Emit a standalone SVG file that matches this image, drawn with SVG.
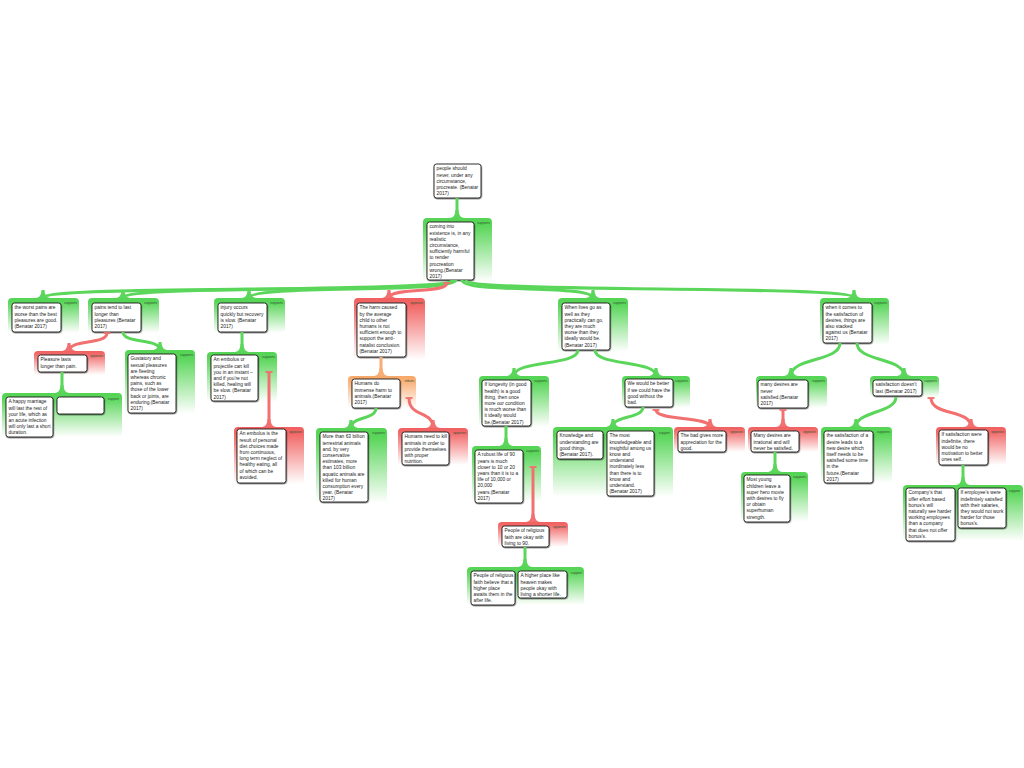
<svg xmlns="http://www.w3.org/2000/svg" width="1024" height="768" viewBox="0 0 1024 768">
<style>
.t{font-family:"Liberation Sans",Arial,sans-serif;font-size:4.85px;fill:#222}
.lbl{font-family:"Liberation Sans",Arial,sans-serif;font-size:3.4px;fill:#335533;text-anchor:end}
.box{fill:#fff;stroke:#1a1a1a;stroke-width:0.9;filter:url(#sh)}
.cg{fill:url(#gG)}
.cr{fill:url(#gR)}
.co{fill:url(#gO)}
.lg{fill:none;stroke:#5ad65a;stroke-width:3;marker-end:url(#fg)}
.lr{fill:none;stroke:#f27070;stroke-width:3;marker-end:url(#fr);marker-start:url(#tr)}
.lo{fill:none;stroke:#f7ad74;stroke-width:3;marker-end:url(#fo)}
</style>
<defs>
<linearGradient id="gG" x1="0" y1="0" x2="0" y2="1"><stop offset="0" stop-color="#55d455"/><stop offset="0.12" stop-color="#5ad65a"/><stop offset="1" stop-color="#ffffff"/></linearGradient>
<linearGradient id="gR" x1="0" y1="0" x2="0" y2="1"><stop offset="0" stop-color="#f06060"/><stop offset="0.12" stop-color="#f26868"/><stop offset="1" stop-color="#ffffff"/></linearGradient>
<linearGradient id="gO" x1="0" y1="0" x2="0" y2="1"><stop offset="0" stop-color="#f8a868"/><stop offset="0.12" stop-color="#f8ad72"/><stop offset="1" stop-color="#ffffff"/></linearGradient>
<filter id="sh" x="-10%" y="-10%" width="130%" height="130%"><feDropShadow dx="0.5" dy="0.9" stdDeviation="0.4" flood-color="#000" flood-opacity="0.5"/></filter>
<marker id="fg" viewBox="-8 -7 9 14" refX="0" refY="0" markerWidth="9" markerHeight="14" orient="auto" markerUnits="userSpaceOnUse"><path d="M-8,-1.5 Q-1,-1.5 0,-7 L0,7 Q-1,1.5 -8,1.5 Z" fill="#5ad65a"/></marker>
<marker id="fr" viewBox="-8 -7 9 14" refX="0" refY="0" markerWidth="9" markerHeight="14" orient="auto" markerUnits="userSpaceOnUse"><path d="M-8,-1.5 Q-1,-1.5 0,-7 L0,7 Q-1,1.5 -8,1.5 Z" fill="#f27070"/></marker>
<marker id="fo" viewBox="-8 -7 9 14" refX="0" refY="0" markerWidth="9" markerHeight="14" orient="auto" markerUnits="userSpaceOnUse"><path d="M-8,-1.5 Q-1,-1.5 0,-7 L0,7 Q-1,1.5 -8,1.5 Z" fill="#f7ad74"/></marker>
<marker id="tr" viewBox="-2 -5 4 10" refX="0" refY="0" markerWidth="4" markerHeight="10" orient="auto" markerUnits="userSpaceOnUse"><path d="M0,-3.5 L0,3.5" stroke="#f27070" stroke-width="1.8"/></marker>
</defs>
<rect width="1024" height="768" fill="#fff"/>

<g id="n-root">
<rect class="box" x="434" y="164" width="47" height="34" rx="2.5"/>
<text class="t"><tspan x="436.5" y="170.3">people should</tspan><tspan x="436.5" y="176.5">never, under any</tspan><tspan x="436.5" y="182.7">circumstance,</tspan><tspan x="436.5" y="188.9">procreate. (Benatar</tspan><tspan x="436.5" y="195.1">2017)</tspan></text>
</g>

<g id="n-L1">
<rect class="cg" x="423" y="218" width="69" height="64" rx="4"/>
<text class="lbl" x="490" y="224">supports</text>
<rect class="box" x="427" y="222" width="47" height="58" rx="2.5"/>
<text class="t"><tspan x="429.5" y="228.3">coming into</tspan><tspan x="429.5" y="234.5">existence is, in any</tspan><tspan x="429.5" y="240.7">realistic</tspan><tspan x="429.5" y="246.9">circumstance,</tspan><tspan x="429.5" y="253.1">sufficiently harmful</tspan><tspan x="429.5" y="259.3">to render</tspan><tspan x="429.5" y="265.5">procreation</tspan><tspan x="429.5" y="271.7">wrong.(Benatar</tspan><tspan x="429.5" y="277.9">2017)</tspan></text>
</g>

<g id="n-A">
<rect class="cg" x="8" y="298" width="71" height="35" rx="4"/>
<text class="lbl" x="77" y="304">supports</text>
<rect class="box" x="12" y="303" width="49" height="29" rx="2.5"/>
<text class="t"><tspan x="14.5" y="309.3">the worst pains are</tspan><tspan x="14.5" y="315.5">worse than the best</tspan><tspan x="14.5" y="321.7">pleasures are good.</tspan><tspan x="14.5" y="327.9">(Benatar 2017)</tspan></text>
</g>

<g id="n-B">
<rect class="cg" x="88" y="298" width="71" height="35" rx="4"/>
<text class="lbl" x="157" y="304">supports</text>
<rect class="box" x="92" y="303" width="49" height="29" rx="2.5"/>
<text class="t"><tspan x="94.5" y="309.3">pains tend to last</tspan><tspan x="94.5" y="315.5">longer than</tspan><tspan x="94.5" y="321.7">pleasures (Benatar</tspan><tspan x="94.5" y="327.9">2017)</tspan></text>
</g>

<g id="n-C">
<rect class="cg" x="214" y="298" width="71" height="35" rx="4"/>
<text class="lbl" x="283" y="304">supports</text>
<rect class="box" x="218" y="303" width="49" height="29" rx="2.5"/>
<text class="t"><tspan x="220.5" y="309.3">injury occurs</tspan><tspan x="220.5" y="315.5">quickly but recovery</tspan><tspan x="220.5" y="321.7">is slow. (Benatar</tspan><tspan x="220.5" y="327.9">2017)</tspan></text>
</g>

<g id="n-D">
<rect class="cr" x="354" y="298" width="71" height="62" rx="4"/>
<text class="lbl" x="423" y="304">opposes</text>
<rect class="box" x="357" y="303" width="49" height="54" rx="2.5"/>
<text class="t"><tspan x="359.5" y="309.3">The harm caused</tspan><tspan x="359.5" y="315.5">by the average</tspan><tspan x="359.5" y="321.7">child to other</tspan><tspan x="359.5" y="327.9">humans is not</tspan><tspan x="359.5" y="334.1">sufficient enough to</tspan><tspan x="359.5" y="340.3">support the anti-</tspan><tspan x="359.5" y="346.5">natalist conclusion.</tspan><tspan x="359.5" y="352.7">(Benatar 2017)</tspan></text>
</g>

<g id="n-E">
<rect class="cg" x="558" y="298" width="70" height="54" rx="4"/>
<text class="lbl" x="626" y="304">supports</text>
<rect class="box" x="562" y="303" width="48" height="47" rx="2.5"/>
<text class="t"><tspan x="564.5" y="309.3">When lives go as</tspan><tspan x="564.5" y="315.5">well as they</tspan><tspan x="564.5" y="321.7">practically can go,</tspan><tspan x="564.5" y="327.9">they are much</tspan><tspan x="564.5" y="334.1">worse than they</tspan><tspan x="564.5" y="340.3">ideally would be.</tspan><tspan x="564.5" y="346.5">(Benatar 2017)</tspan></text>
</g>

<g id="n-F">
<rect class="cg" x="820" y="298" width="69" height="47" rx="4"/>
<text class="lbl" x="887" y="304">supports</text>
<rect class="box" x="823" y="303" width="49" height="40" rx="2.5"/>
<text class="t"><tspan x="825.5" y="309.3">when it comes to</tspan><tspan x="825.5" y="315.5">the satisfaction of</tspan><tspan x="825.5" y="321.7">desires, things are</tspan><tspan x="825.5" y="327.9">also stacked</tspan><tspan x="825.5" y="334.1">against us (Benatar</tspan><tspan x="825.5" y="340.3">2017)</tspan></text>
</g>

<g id="n-B1">
<rect class="cr" x="34" y="351" width="71" height="24" rx="4"/>
<text class="lbl" x="103" y="357">opposes</text>
<rect class="box" x="38" y="355" width="49" height="17" rx="2.5"/>
<text class="t"><tspan x="40.5" y="361.3">Pleasure lasts</tspan><tspan x="40.5" y="367.5">longer than pain.</tspan></text>
</g>

<g id="n-B2">
<rect class="cg" x="125" y="350" width="70" height="64" rx="4"/>
<text class="lbl" x="193" y="356">supports</text>
<rect class="box" x="128" y="354" width="48" height="59" rx="2.5"/>
<text class="t"><tspan x="130.5" y="360.3">Gustatory and</tspan><tspan x="130.5" y="366.5">sexual pleasures</tspan><tspan x="130.5" y="372.7">are fleeting</tspan><tspan x="130.5" y="378.9">whereas chronic</tspan><tspan x="130.5" y="385.1">pains, such as</tspan><tspan x="130.5" y="391.3">those of the lower</tspan><tspan x="130.5" y="397.5">back or joints, are</tspan><tspan x="130.5" y="403.7">enduring.(Benatar</tspan><tspan x="130.5" y="409.9">2017)</tspan></text>
</g>

<g id="n-B11">
<rect class="cg" x="2" y="393" width="120" height="44" rx="4"/>
<text class="lbl" x="119" y="400">support</text>
<rect class="box" x="6" y="397" width="47" height="40" rx="2.5"/>
<text class="t"><tspan x="8.5" y="403.3">A happy marriage</tspan><tspan x="8.5" y="409.5">will last the rest of</tspan><tspan x="8.5" y="415.7">your life, which as</tspan><tspan x="8.5" y="421.9">an acute infection</tspan><tspan x="8.5" y="428.1">will only last a short</tspan><tspan x="8.5" y="434.3">duration.</tspan></text>
<rect class="box" x="57" y="397" width="47" height="17" rx="2.5"/>
</g>

<g id="n-C1">
<rect class="cg" x="207" y="352" width="70" height="50" rx="4"/>
<text class="lbl" x="275" y="358">supports</text>
<rect class="box" x="211" y="355" width="47" height="46" rx="2.5"/>
<text class="t"><tspan x="213.5" y="361.3">An embolus or</tspan><tspan x="213.5" y="367.5">projectile can kill</tspan><tspan x="213.5" y="373.7">you in an instant –</tspan><tspan x="213.5" y="379.9">and if you're not</tspan><tspan x="213.5" y="386.1">killed, healing will</tspan><tspan x="213.5" y="392.3">be slow. (Benatar</tspan><tspan x="213.5" y="398.5">2017)</tspan></text>
</g>

<g id="n-C11">
<rect class="cr" x="234" y="427" width="70" height="57" rx="4"/>
<text class="lbl" x="302" y="433">opposes</text>
<rect class="box" x="237" y="429" width="49" height="54" rx="2.5"/>
<text class="t"><tspan x="239.5" y="435.3">An embolus is the</tspan><tspan x="239.5" y="441.5">result of personal</tspan><tspan x="239.5" y="447.7">diet choices made</tspan><tspan x="239.5" y="453.9">from continuous,</tspan><tspan x="239.5" y="460.1">long term neglect of</tspan><tspan x="239.5" y="466.3">healthy eating, all</tspan><tspan x="239.5" y="472.5">of which can be</tspan><tspan x="239.5" y="478.7">avoided.</tspan></text>
</g>

<g id="n-D1">
<rect class="co" x="348" y="376" width="68" height="32" rx="4"/>
<text class="lbl" x="414" y="382">rebuts</text>
<rect class="box" x="352" y="379" width="48" height="29" rx="2.5"/>
<text class="t"><tspan x="354.5" y="385.3">Humans do</tspan><tspan x="354.5" y="391.5">immense harm to</tspan><tspan x="354.5" y="397.7">animals.(Benatar</tspan><tspan x="354.5" y="403.9">2017)</tspan></text>
</g>

<g id="n-D11">
<rect class="cg" x="316" y="428" width="71" height="75" rx="4"/>
<text class="lbl" x="385" y="434">supports</text>
<rect class="box" x="320" y="432" width="48" height="70" rx="2.5"/>
<text class="t"><tspan x="322.5" y="438.3">More than 63 billion</tspan><tspan x="322.5" y="444.5">terrestrial animals</tspan><tspan x="322.5" y="450.7">and, by very</tspan><tspan x="322.5" y="456.9">conservative</tspan><tspan x="322.5" y="463.1">estimates, more</tspan><tspan x="322.5" y="469.3">than 103 billion</tspan><tspan x="322.5" y="475.5">aquatic animals are</tspan><tspan x="322.5" y="481.7">killed for human</tspan><tspan x="322.5" y="487.9">consumption every</tspan><tspan x="322.5" y="494.1">year. (Benatar</tspan><tspan x="322.5" y="500.3">2017)</tspan></text>
</g>

<g id="n-D12">
<rect class="cr" x="398" y="428" width="70" height="37" rx="4"/>
<text class="lbl" x="466" y="434">opposes</text>
<rect class="box" x="402" y="432" width="47" height="33" rx="2.5"/>
<text class="t"><tspan x="404.5" y="438.3">Humans need to kill</tspan><tspan x="404.5" y="444.5">animals in order to</tspan><tspan x="404.5" y="450.7">provide themselves</tspan><tspan x="404.5" y="456.9">with proper</tspan><tspan x="404.5" y="463.1">nutrition.</tspan></text>
</g>

<g id="n-E1">
<rect class="cg" x="479" y="376" width="70" height="51" rx="4"/>
<text class="lbl" x="547" y="382">supports</text>
<rect class="box" x="482" y="380" width="49" height="46" rx="2.5"/>
<text class="t"><tspan x="484.5" y="386.3">If longevity (in good</tspan><tspan x="484.5" y="392.5">health) is a good</tspan><tspan x="484.5" y="398.7">thing, then once</tspan><tspan x="484.5" y="404.9">more our condition</tspan><tspan x="484.5" y="411.1">is much worse than</tspan><tspan x="484.5" y="417.3">it ideally would</tspan><tspan x="484.5" y="423.5">be.(Benatar 2017)</tspan></text>
</g>

<g id="n-E2">
<rect class="cg" x="622" y="376" width="68" height="32" rx="4"/>
<text class="lbl" x="688" y="382">supports</text>
<rect class="box" x="625" y="379" width="48" height="28" rx="2.5"/>
<text class="t"><tspan x="627.5" y="385.3">We would be better</tspan><tspan x="627.5" y="391.5">if we could have the</tspan><tspan x="627.5" y="397.7">good without the</tspan><tspan x="627.5" y="403.9">bad.</tspan></text>
</g>

<g id="n-E11">
<rect class="cg" x="472" y="446" width="69" height="56" rx="4"/>
<text class="lbl" x="539" y="452">supports</text>
<rect class="box" x="475" y="450" width="48" height="53" rx="2.5"/>
<text class="t"><tspan x="477.5" y="456.3">A robust life of 90</tspan><tspan x="477.5" y="462.5">years is much</tspan><tspan x="477.5" y="468.7">closer to 10 or 20</tspan><tspan x="477.5" y="474.9">years than it is to a</tspan><tspan x="477.5" y="481.1">life of 10,000 or</tspan><tspan x="477.5" y="487.3">20,000</tspan><tspan x="477.5" y="493.5">years.(Benatar</tspan><tspan x="477.5" y="499.7">2017)</tspan></text>
</g>

<g id="n-E111">
<rect class="cr" x="498" y="522" width="70" height="25" rx="4"/>
<text class="lbl" x="566" y="528">opposes</text>
<rect class="box" x="502" y="526" width="47" height="21" rx="2.5"/>
<text class="t"><tspan x="504.5" y="532.3">People of religious</tspan><tspan x="504.5" y="538.5">faith are okay with</tspan><tspan x="504.5" y="544.7">living to 90.</tspan></text>
</g>

<g id="n-E1111">
<rect class="cg" x="467" y="567" width="117" height="38" rx="4"/>
<text class="lbl" x="582" y="574">support</text>
<rect class="box" x="471" y="571" width="44" height="34" rx="2.5"/>
<text class="t"><tspan x="473.5" y="577.3">People of religious</tspan><tspan x="473.5" y="583.5">faith believe that a</tspan><tspan x="473.5" y="589.7">higher place</tspan><tspan x="473.5" y="595.9">awaits them in the</tspan><tspan x="473.5" y="602.1">after life.</tspan></text>
<rect class="box" x="518" y="571" width="49" height="27" rx="2.5"/>
<text class="t"><tspan x="520.5" y="577.3">A higher place like</tspan><tspan x="520.5" y="583.5">heaven makes</tspan><tspan x="520.5" y="589.7">people okay with</tspan><tspan x="520.5" y="595.9">living a shorter life.</tspan></text>
</g>

<g id="n-E21">
<rect class="cg" x="553" y="427" width="120" height="70" rx="4"/>
<text class="lbl" x="670" y="434">support</text>
<rect class="box" x="557" y="431" width="46" height="28" rx="2.5"/>
<text class="t"><tspan x="559.5" y="437.3">Knowledge and</tspan><tspan x="559.5" y="443.5">understanding are</tspan><tspan x="559.5" y="449.7">good things.</tspan><tspan x="559.5" y="455.9">(Benatar 2017).</tspan></text>
<rect class="box" x="607" y="431" width="47" height="65" rx="2.5"/>
<text class="t"><tspan x="609.5" y="437.3">The most</tspan><tspan x="609.5" y="443.5">knowledgeable and</tspan><tspan x="609.5" y="449.7">insightful among us</tspan><tspan x="609.5" y="455.9">know and</tspan><tspan x="609.5" y="462.1">understand</tspan><tspan x="609.5" y="468.3">inordinately less</tspan><tspan x="609.5" y="474.5">than there is to</tspan><tspan x="609.5" y="480.7">know and</tspan><tspan x="609.5" y="486.9">understand.</tspan><tspan x="609.5" y="493.1">(Benatar 2017)</tspan></text>
</g>

<g id="n-E22">
<rect class="cr" x="674" y="427" width="71" height="25" rx="4"/>
<text class="lbl" x="743" y="433">opposes</text>
<rect class="box" x="678" y="431" width="48" height="21" rx="2.5"/>
<text class="t"><tspan x="680.5" y="437.3">The bad gives more</tspan><tspan x="680.5" y="443.5">appreciation for the</tspan><tspan x="680.5" y="449.7">good.</tspan></text>
</g>

<g id="n-F1">
<rect class="cg" x="756" y="376" width="71" height="32" rx="4"/>
<text class="lbl" x="825" y="382">supports</text>
<rect class="box" x="758" y="380" width="50" height="28" rx="2.5"/>
<text class="t"><tspan x="760.5" y="386.3">many desires are</tspan><tspan x="760.5" y="392.5">never</tspan><tspan x="760.5" y="398.7">satisfied.(Benatar</tspan><tspan x="760.5" y="404.9">2017)</tspan></text>
</g>

<g id="n-F2">
<rect class="cg" x="870" y="376" width="69" height="21" rx="4"/>
<text class="lbl" x="937" y="382">supports</text>
<rect class="box" x="873" y="380" width="49" height="16" rx="2.5"/>
<text class="t"><tspan x="875.5" y="386.3">satisfaction doesn't</tspan><tspan x="875.5" y="392.5">last (Benatar 2017)</tspan></text>
</g>

<g id="n-F11">
<rect class="cr" x="748" y="427" width="70" height="25" rx="4"/>
<text class="lbl" x="816" y="433">opposes</text>
<rect class="box" x="751" y="431" width="48" height="21" rx="2.5"/>
<text class="t"><tspan x="753.5" y="437.3">Many desires are</tspan><tspan x="753.5" y="443.5">irrational and will</tspan><tspan x="753.5" y="449.7">never be satisfied.</tspan></text>
</g>

<g id="n-F111">
<rect class="cg" x="741" y="472" width="67" height="50" rx="4"/>
<text class="lbl" x="806" y="478">supports</text>
<rect class="box" x="744" y="475" width="46" height="47" rx="2.5"/>
<text class="t"><tspan x="746.5" y="481.3">Most young</tspan><tspan x="746.5" y="487.5">children leave a</tspan><tspan x="746.5" y="493.7">super hero movie</tspan><tspan x="746.5" y="499.9">with desires to fly</tspan><tspan x="746.5" y="506.1">or obtain</tspan><tspan x="746.5" y="512.3">superhuman</tspan><tspan x="746.5" y="518.5">strength.</tspan></text>
</g>

<g id="n-F21">
<rect class="cg" x="821" y="427" width="71" height="56" rx="4"/>
<text class="lbl" x="890" y="433">supports</text>
<rect class="box" x="824" y="431" width="49" height="52" rx="2.5"/>
<text class="t"><tspan x="826.5" y="437.3">the satisfaction of a</tspan><tspan x="826.5" y="443.5">desire leads to a</tspan><tspan x="826.5" y="449.7">new desire which</tspan><tspan x="826.5" y="455.9">itself needs to be</tspan><tspan x="826.5" y="462.1">satisfied some time</tspan><tspan x="826.5" y="468.3">in the</tspan><tspan x="826.5" y="474.5">future.(Benatar</tspan><tspan x="826.5" y="480.7">2017)</tspan></text>
</g>

<g id="n-F22">
<rect class="cr" x="936" y="427" width="70" height="38" rx="4"/>
<text class="lbl" x="1004" y="433">opposes</text>
<rect class="box" x="939" y="430" width="49" height="35" rx="2.5"/>
<text class="t"><tspan x="941.5" y="436.3">If satisfaction were</tspan><tspan x="941.5" y="442.5">indefinite, there</tspan><tspan x="941.5" y="448.7">would be no</tspan><tspan x="941.5" y="454.9">motivation to better</tspan><tspan x="941.5" y="461.1">ones self.</tspan></text>
</g>

<g id="n-F221">
<rect class="cg" x="903" y="485" width="120" height="56" rx="4"/>
<text class="lbl" x="1020" y="492">support</text>
<rect class="box" x="906" y="488" width="49" height="53" rx="2.5"/>
<text class="t"><tspan x="908.5" y="494.3">Company's that</tspan><tspan x="908.5" y="500.5">offer effort based</tspan><tspan x="908.5" y="506.7">bonus's will</tspan><tspan x="908.5" y="512.9">naturally see harder</tspan><tspan x="908.5" y="519.1">working employees</tspan><tspan x="908.5" y="525.3">than a company</tspan><tspan x="908.5" y="531.5">that does not offer</tspan><tspan x="908.5" y="537.7">bonus's.</tspan></text>
<rect class="box" x="958" y="488" width="48" height="40" rx="2.5"/>
<text class="t"><tspan x="960.5" y="494.3">If employee's were</tspan><tspan x="960.5" y="500.5">indefinitely satisfied</tspan><tspan x="960.5" y="506.7">with their salaries,</tspan><tspan x="960.5" y="512.9">they would not work</tspan><tspan x="960.5" y="519.1">harder for those</tspan><tspan x="960.5" y="525.3">bonus's.</tspan></text>
</g>

<g id="connectors">
<path class="lg" d="M457,198 L457,218"/>
<path class="lg" d="M452,280 C452,294 43,284 43,298"/>
<path class="lg" d="M454,280 C454,294 123,284 123,298"/>
<path class="lg" d="M456,280 C456,294 249,284 249,298"/>
<path class="lr" d="M447,283 C447,294 389,287 389,298"/>
<path class="lg" d="M462,280 C462,294 593,284 593,298"/>
<path class="lg" d="M466,280 C466,294 854,284 854,298"/>
<path class="lr" d="M107,333 C107,345 69,339 69,351"/>
<path class="lg" d="M123,332 C123,344 160,338 160,350"/>
<path class="lg" d="M62,372 L62,393"/>
<path class="lg" d="M242,332 L242,352"/>
<path class="lr" d="M269,372 L269,427"/>
<path class="lo" d="M381,357 L381,376"/>
<path class="lg" d="M376,408 C376,420 351,416 351,428"/>
<path class="lr" d="M409,398 C409,418 433,410 433,428"/>
<path class="lg" d="M578,350 C578,366 514,360 514,376"/>
<path class="lg" d="M595,350 C595,366 656,360 656,376"/>
<path class="lg" d="M506,426 L506,446"/>
<path class="lr" d="M533,467 L533,522"/>
<path class="lg" d="M525,547 L525,567"/>
<path class="lg" d="M643,407 C643,419 613,415 613,427"/>
<path class="lr" d="M656,410 C656,421 710,416 710,427"/>
<path class="lg" d="M840,343 C840,362 791,357 791,376"/>
<path class="lg" d="M857,343 C857,362 904,357 904,376"/>
<path class="lr" d="M783,410 L783,427"/>
<path class="lg" d="M775,452 L775,472"/>
<path class="lg" d="M896,397 C896,413 856,411 856,427"/>
<path class="lr" d="M931,398 C931,416 971,409 971,427"/>
<path class="lg" d="M963,465 L963,485"/>
</g>
</svg>
